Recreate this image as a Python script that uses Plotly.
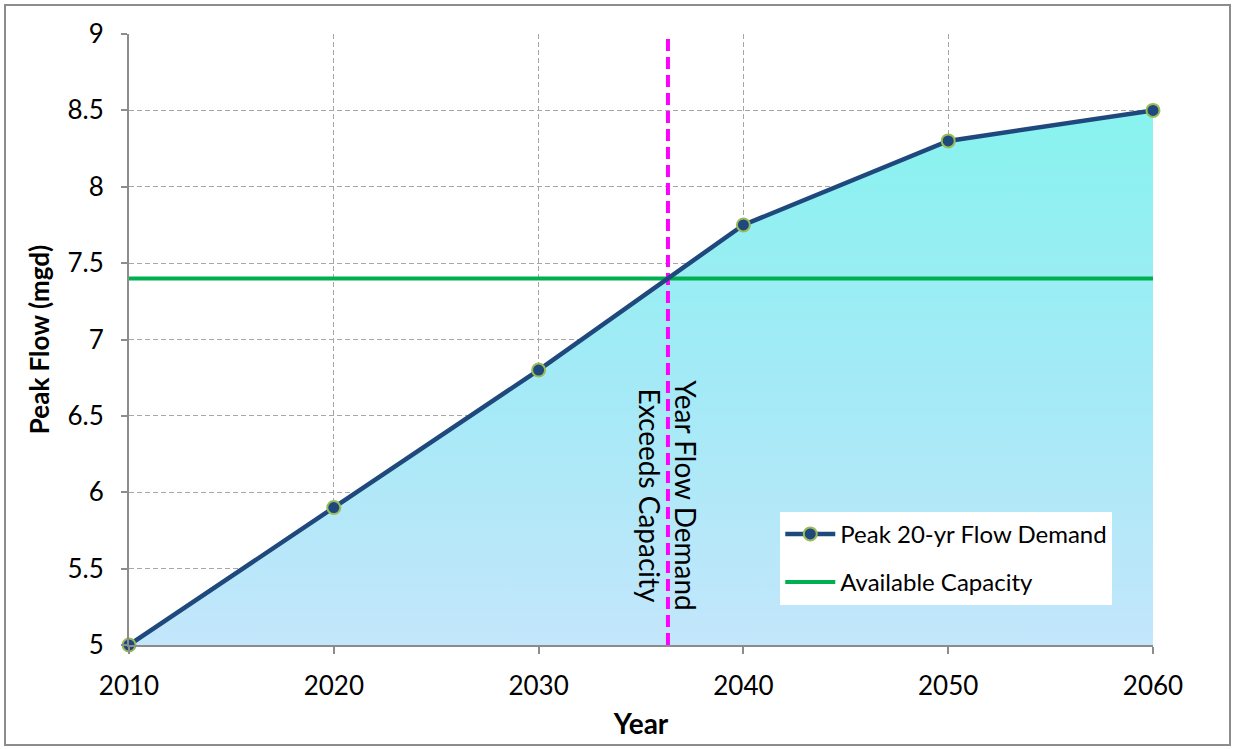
import numpy as np
import plotly.graph_objects as go

# Projected peak flow demand and plant capacity
years = [2010, 2020, 2030, 2040, 2050, 2060]
peak_demand = [5.0, 5.9, 6.8, 7.75, 8.3, 8.5]
capacity = 7.4
demand_name = "Peak 20-yr Flow Demand"
capacity_name = "Available Capacity"
crossing_label = "Year Flow Demand<br>Exceeds Capacity"

# Year at which demand first reaches capacity (linear between points)
cross_year = float(np.interp(capacity, peak_demand, years))

FONT = "Lato, Calibri, Arial, sans-serif"
NAVY = "#1F497D"
GREEN = "#00B050"
MAGENTA = "#FF00FF"
GRID = "#A6A6A6"
AXIS = "#8C8C8C"

fig = go.Figure()

# Gradient-shaded area under the demand curve
fig.add_trace(go.Scatter(
    x=years, y=peak_demand, mode="lines", line=dict(width=0),
    fill="tozeroy",
    fillgradient=dict(type="vertical", start=min(peak_demand), stop=max(peak_demand),
                      colorscale=[[0, "#C3E6FB"], [0.5, "#A3EAF6"], [1, "#88F3EF"]]),
    showlegend=False, hoverinfo="skip",
))

# Capacity line across the full span
fig.add_trace(go.Scatter(
    x=[years[0], years[-1]], y=[capacity, capacity], mode="lines",
    line=dict(color=GREEN, width=4), name=capacity_name,
    legendrank=2, legendgroup="cap",
))

# Dashed marker of the crossing year
fig.add_trace(go.Scatter(
    x=[cross_year, cross_year], y=[5, 9], mode="lines",
    line=dict(color=MAGENTA, width=4, dash="12px,6px"),
    showlegend=False, hoverinfo="skip",
))

# Demand curve with markers
fig.add_trace(go.Scatter(
    x=years, y=peak_demand, mode="lines+markers", name=demand_name,
    line=dict(color=NAVY, width=4.5),
    marker=dict(size=13, color=NAVY, line=dict(color="#9BBB59", width=2)),
    cliponaxis=False, legendrank=1, legendgroup="dem",
))

fig.add_annotation(
    x=cross_year, y=5.98, xref="x", yref="y", text=crossing_label,
    textangle=90, showarrow=False, align="center",
    font=dict(family=FONT, size=28, color="black"),
)

# Outer chart border
fig.add_shape(type="rect", xref="paper", yref="paper",
              x0=-124 / 1024, x1=1101 / 1024, y0=-100 / 611, y1=640 / 611,
              line=dict(color="#8C8C8C", width=2), fillcolor="rgba(0,0,0,0)", layer="below")

fig.update_layout(
    width=1233, height=749,
    margin=dict(l=129, r=80, t=34, b=104),
    paper_bgcolor="white", plot_bgcolor="white",
    font=dict(family=FONT, size=26, color="black"),
    showlegend=True,
    legend=dict(x=0.636, y=0.218, xanchor="left", yanchor="top",
                bgcolor="white", borderwidth=0,
                font=dict(family=FONT, size=24, color="black"),
                tracegroupgap=14, itemwidth=50, entrywidth=320),
    xaxis=dict(
        range=[2010, 2060], dtick=10, tick0=2010,
        showgrid=True, gridcolor=GRID, griddash="5px,3px", gridwidth=1,
        showline=True, linecolor=AXIS, linewidth=2,
        ticks="outside", ticklen=7, tickcolor=AXIS, tickwidth=2,
        ticklabelstandoff=10,
        zeroline=False,
        title=dict(text="<b>Year</b>", font=dict(family=FONT, size=28), standoff=14),
    ),
    yaxis=dict(
        range=[5, 9], dtick=0.5,
        showgrid=True, gridcolor=GRID, griddash="5px,3px", gridwidth=1,
        showline=True, linecolor=AXIS, linewidth=2,
        ticks="outside", ticklen=6, tickcolor=AXIS, tickwidth=2,
        ticklabelstandoff=12,
        zeroline=False,
        title=dict(text="<b>Peak Flow (mgd)</b>", font=dict(family=FONT, size=26), standoff=10),
    ),
)

fig.write_html("out.html")
